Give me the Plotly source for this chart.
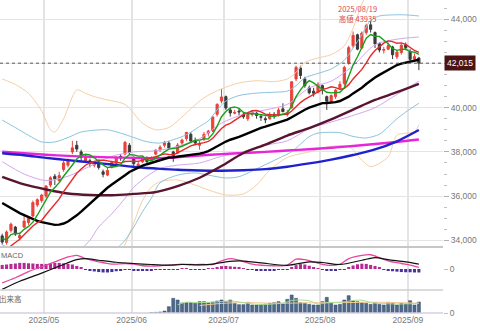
import plotly.graph_objects as go
from plotly.subplots import make_subplots

# ---------------- data ----------------
apr_days = [16, 17, 18, 21, 22, 23, 24, 25, 28, 30]
may_days = [1, 2, 7, 8, 9, 12, 13, 14, 15, 16, 19, 20, 21, 22, 23, 26, 27, 28, 29, 30]
jun_days = [2, 3, 4, 5, 6, 9, 10, 11, 12, 13, 16, 17, 18, 19, 20, 23, 24, 25, 26, 27, 30]
jul_days = [1, 2, 3, 4, 7, 8, 9, 10, 11, 14, 15, 16, 17, 18, 22, 23, 24, 25, 28, 29, 30, 31]
aug_days = [1, 4, 5, 6, 7, 8, 12, 13, 14, 15, 18, 19, 20, 21, 22, 25, 26, 27, 28, 29]
sep_days = [1, 2, 3]

opens = [34200, 33900, 34450, 34600, 34100, 34600, 34800, 35100, 35600, 35800,
         36000, 36500, 36900, 36700, 37200, 37400, 38000, 38300, 38000, 37600,
         37600, 37400, 37550, 37100, 36950, 37300, 37500, 37800, 37900, 38300,
         37700, 37350, 37550, 37700, 37600, 37900, 38100, 38300, 38400, 38000,
         37950, 38400, 38600, 38800, 38500, 38300, 38600, 38850, 38950, 39700,
         40300, 40500, 39900, 39750, 39850, 39700, 39500, 39700, 39750, 39600,
         39500, 39500, 39700, 39650, 39950, 39700, 40000, 41300, 41800, 41300,
         40900, 40750, 40700, 41000, 40500, 40300, 40500, 40900, 41100, 42000,
         42800, 43300, 42700, 43400, 43750, 43400, 42900, 42600, 42650, 42750,
         42300, 42500, 42850, 42550, 42200, 42250]
highs = [34300, 34450, 34800, 34650, 34350, 35200, 35100, 35800, 35900, 36100,
         36500, 36900, 37000, 37100, 37600, 37700, 38500, 38500, 38100, 37900,
         37700, 37600, 37650, 37200, 37300, 37600, 37800, 37900, 38500, 38400,
         37800, 37600, 37800, 37800, 37800, 38100, 38300, 38500, 38500, 38050,
         38400, 38600, 38900, 38900, 38650, 38500, 38900, 39000, 39600, 40200,
         40850, 40550, 40000, 39900, 39950, 39800, 39750, 39900, 39850, 39700,
         39600, 39800, 39800, 40000, 40200, 39900, 41200, 41900, 41900, 41400,
         41000, 40900, 41150, 41050, 40550, 40600, 40850, 41200, 41900, 42800,
         43450, 43350, 43450, 43800, 43935, 43450, 42950, 42750, 42950, 42800,
         42600, 42900, 42950, 42650, 42450, 42300]
lows = [33800, 33800, 34350, 34200, 33990, 34550, 34700, 35050, 35500, 35700,
        35900, 36400, 36500, 36650, 37100, 37300, 37900, 38000, 37600, 37500,
        37300, 37300, 37200, 36850, 36900, 37250, 37400, 37600, 37850, 37900,
        37300, 37300, 37500, 37500, 37550, 37850, 38000, 38200, 38150, 37550,
        37900, 38300, 38500, 38400, 38300, 38100, 38500, 38700, 38900, 39600,
        40200, 39900, 39600, 39700, 39650, 39500, 39400, 39600, 39500, 39400,
        39300, 39450, 39500, 39600, 39800, 39600, 39950, 41200, 41300, 40900,
        40600, 40500, 40650, 40600, 39900, 40250, 40400, 40800, 41000, 41950,
        42700, 42600, 42650, 43300, 43400, 42700, 42500, 42450, 42600, 42200,
        42200, 42400, 42600, 42100, 42100, 41700]
closes = [33920, 34377, 34730, 34280, 34220, 34868, 35039, 35705, 35839, 36045,
          36452, 36830, 36779, 36928, 37503, 37644, 38183, 38128, 37755, 37753,
          37498, 37529, 37299, 36985, 37160, 37531, 37724, 37722, 38432, 37965,
          37470, 37446, 37747, 37554, 37741, 38088, 38211, 38421, 38173, 37834,
          38311, 38536, 38885, 38488, 38403, 38354, 38790, 38942, 39584, 40150,
          40487, 39986, 39762, 39785, 39810, 39587, 39688, 39821, 39646, 39569,
          39459, 39678, 39663, 39901, 39819, 39774, 41171, 41826, 41456, 40998,
          40674, 40654, 41069, 40799, 40290, 40549, 40794, 41059, 41820, 42718,
          43274, 42649, 43378, 43714, 43546, 42888, 42610, 42633, 42807, 42394,
          42520, 42829, 42718, 42188, 42310, 42015]

ma5 = [34073, 34026, 34255, 34315, 34305, 34495, 34627, 34822, 35134, 35499,
       35816, 36174, 36389, 36607, 36898, 37137, 37407, 37677, 37843, 37893,
       37863, 37733, 37567, 37413, 37294, 37301, 37340, 37424, 37714, 37875,
       37863, 37807, 37812, 37636, 37592, 37715, 37868, 38003, 38127, 38145,
       38190, 38255, 38348, 38411, 38525, 38533, 38584, 38595, 38815, 39164,
       39591, 39830, 39994, 40034, 39966, 39786, 39726, 39738, 39710, 39662,
       39637, 39635, 39603, 39654, 39704, 39767, 40066, 40498, 40809, 41045,
       41225, 41122, 40970, 40839, 40697, 40672, 40700, 40698, 40902, 41388,
       41933, 42304, 42768, 43147, 43312, 43235, 43227, 43078, 42897, 42666,
       42593, 42637, 42654, 42530, 42513, 42412]
ma10 = [33470, 33600, 33750, 33900, 34050, 34250, 34450, 34650, 34800, 34902,
        35156, 35401, 35606, 35871, 36199, 36476, 36791, 37033, 37225, 37396,
        37500, 37570, 37622, 37628, 37593, 37582, 37536, 37496, 37563, 37585,
        37582, 37573, 37618, 37675, 37733, 37789, 37838, 37908, 37882, 37869,
        37953, 38062, 38175, 38269, 38335, 38362, 38420, 38472, 38613, 38844,
        39062, 39207, 39295, 39424, 39565, 39688, 39778, 39866, 39872, 39814,
        39711, 39681, 39671, 39682, 39683, 39702, 39850, 40051, 40232, 40375,
        40496, 40594, 40734, 40824, 40871, 40949, 40911, 40834, 40871, 41043,
        41303, 41502, 41733, 42025, 42350, 42584, 42766, 42923, 43022, 42989,
        42914, 42932, 42866, 42713, 42590, 42502]
ma25 = [35690, 35570, 35450, 35330, 35230, 35140, 35050, 34960, 34880, 34820,
        34770, 34730, 34700, 34710, 34760, 34850, 34980, 35130, 35300, 35480,
        35660, 35850, 36030, 36210, 36378, 36522, 36656, 36776, 36942, 37092,
        37196, 37292, 37374, 37442, 37510, 37576, 37631, 37697, 37746, 37760,
        37786, 37801, 37831, 37860, 37886, 37920, 37971, 38037, 38140, 38260,
        38378, 38469, 38550, 38605, 38678, 38763, 38853, 38936, 39019, 39092,
        39147, 39206, 39256, 39325, 39404, 39463, 39568, 39686, 39804, 39908,
        40001, 40076, 40161, 40209, 40215, 40217, 40250, 40302, 40383, 40499,
        40647, 40765, 40907, 41070, 41229, 41366, 41484, 41603, 41719, 41822,
        41932, 41998, 42034, 42063, 42115, 42169]

long_idx = [0, 5, 10, 15, 20, 25, 30, 35, 40, 45, 50, 55, 60, 65, 70, 75, 80, 85, 90, 95]
ma75 = [36870, 36530, 36300, 36120, 36050, 36040, 36100, 36180, 36450, 36830,
        37360, 37950, 38330, 38740, 39080, 39470, 39910, 40350, 40700, 41080]
ma200 = [37940, 37850, 37730, 37630, 37530, 37430, 37320, 37250, 37190, 37160,
         37150, 37170, 37220, 37330, 37480, 37650, 37860, 38110, 38480, 38990]
ma100 = [38010, 37940, 37870, 37820, 37780, 37750, 37730, 37715, 37760, 37840,
         37900, 37950, 38000, 38060, 38120, 38190, 38270, 38360, 38450, 38560]

up3_idx = [0, 3, 6, 9, 11, 12, 14, 17, 19, 21, 24, 28, 32, 35, 38, 40, 43, 46, 50,
           54, 58, 62, 65, 67, 69, 72, 75, 78, 80, 82, 84, 88, 92, 95]
up3 = [41300, 41050, 40650, 39850, 39000, 38900, 39500, 40800, 40650, 40500, 40350,
       40150, 39300, 39000, 39100, 39400, 39950, 40450, 40850, 41120, 41220, 41180,
       41300, 41600, 42050, 42250, 42400, 42800, 43600, 44700, 45400, 45800, 45600, 45300]
up2_idx = [0, 3, 6, 9, 12, 15, 18, 21, 24, 27, 30, 33, 36, 39, 42, 45, 47, 49, 51,
           54, 58, 62, 65, 67, 69, 72, 75, 78, 80, 82, 84, 86, 89, 92, 95]
up2 = [39440, 39100, 38750, 38450, 38450, 38650, 38900, 38980, 39000, 38850, 38650,
       38460, 38400, 38550, 38780, 39150, 39400, 39900, 40300, 40550, 40660, 40700,
       40750, 41000, 41350, 41550, 41750, 42150, 42700, 43300, 43950, 44150, 44200,
       44200, 44150]
up1_idx = [0, 5, 10, 15, 20, 25, 30, 35, 40, 45, 50, 55, 60, 65, 70, 75, 80, 85, 90, 95]
up1 = [37560, 37000, 36700, 36900, 37350, 37800, 38000, 38050, 38250, 38600,
       39300, 39700, 39900, 40150, 40900, 41200, 41900, 42850, 43100, 43200]
lo1_idx = [0, 5, 10, 15, 18, 20, 22, 25, 28, 30, 33, 36, 40, 45, 50, 55, 60, 65,
           70, 75, 80, 85, 90, 95]
lo1 = [33800, 33300, 32900, 33000, 33600, 34000, 34600, 35200, 35900, 36400, 36900,
       37250, 37400, 37500, 37800, 38000, 38300, 38500, 39050, 39350, 39650, 40000,
       40600, 41200]
lo2_idx = [22, 24, 26, 28, 30, 32, 34, 36, 40, 44, 47, 51, 54, 59, 63, 66, 70, 72,
           77, 80, 83, 86, 88, 90, 92, 95]
lo2 = [32500, 33200, 33600, 34000, 34600, 35300, 35900, 36600, 36950, 37050, 36950,
       36820, 36880, 37330, 37710, 38010, 38690, 38850, 38870, 38700, 38630, 38800,
       39130, 39500, 39800, 40200]
lo3_idx = [24, 26, 28, 30, 32, 34, 36, 40, 44, 47, 51, 55, 58, 61, 65, 70, 75, 79,
           82, 84, 88, 90, 94, 95]
lo3 = [32200, 32900, 33800, 34800, 35800, 36400, 36650, 36730, 36500, 36280, 36050,
       36100, 36500, 37180, 37750, 38000, 38250, 38250, 37630, 37330, 37780, 38750,
       38910, 39220]

macd_idx = [0, 3, 6, 9, 12, 15, 17, 19, 22, 25, 28, 30, 32, 35, 38, 41, 43, 46, 48,
            50, 52, 54, 57, 62, 65, 67, 69, 71, 74, 77, 79, 82, 84, 86, 88, 91, 93, 95]
macd = [-680, -430, -130, 110, 350, 590, 670, 510, 350, 240, 270, 240, 160, 140,
        190, 240, 220, 220, 220, 400, 510, 430, 240, 160, 190, 480, 460, 350, 190,
        240, 510, 670, 700, 560, 400, 270, 190, 80]
signal_idx = [0, 4, 9, 13, 17, 19, 22, 26, 30, 34, 38, 41, 45, 48, 51, 54, 59, 65,
              70, 73, 77, 82, 85, 88, 92, 95]
signal = [-1000, -600, -200, 140, 460, 510, 430, 330, 270, 220, 190, 220, 200, 240,
          350, 400, 300, 180, 350, 320, 220, 430, 560, 460, 350, 240]
hist = [200, 220, 250, 270, 300, 300, 280, 270, 250, 250, 250, 270, 300, 300, 280,
        250, 220, 150, 70,
        -20, -70, -120, -150, -170, -170, -150, -110, -70, -20, -40,
        -70, -80, -70, -60, -50, -40,
        -20, -15, -10, -15, -10, 10, 10, -10, -15, -15, -10, 15,
        40, 100, 140, 150, 130, 110, 80,
        40, -10, -30, -50, -60, -60, -60, -50, -40, -40,
        -20, 80, 190, 240, 220, 160, 90,
        30, -30, -60, -70, -60, -40, -10,
        80, 170, 230, 260, 250, 200, 150, 80,
        -20, -70, -110, -130, -150, -160, -160, -170, -170]

volume = [None] * 34 + [
    60, 80, 120, 240, 760, 1760, 1560, 1200, 1240, 1240, 1160, 1360, 1360, 1240,
    1320, 1440, 1560, 1360, 1560, 1160, 1000, 1000, 1280, 960, 960, 1040, 1080,
    1160, 1240, 1360, 1080, 1640, 2160, 1760, 1240, 1160, 1040, 960, 960, 1360,
    1880, 1240, 960, 1040, 1560, 2080, 1440, 1360, 1280, 1160, 1040, 1240, 1040,
    960, 1280, 1160, 960, 1160, 1080, 1480, 960, 1320]
vma_s_idx = [40, 42, 44, 46, 48, 50, 52, 54, 56, 58, 60, 62, 64, 66, 68, 70, 72, 74,
             76, 78, 80, 82, 84, 86, 88, 90, 92, 94, 95]
vma_s = [1000, 1300, 1250, 1260, 1300, 1380, 1440, 1320, 1160, 1040, 1010, 1100,
         1180, 1500, 1560, 1470, 1070, 1240, 1280, 1340, 1500, 1540, 1260, 1140,
         1110, 1080, 1090, 1130, 1200]
vma_l_idx = [45, 50, 55, 60, 65, 70, 75, 80, 85, 90, 95]
vma_l = [900, 1150, 1250, 1200, 1180, 1230, 1230, 1260, 1290, 1250, 1180]

last_price = 42015
high_note = ["2025/08/19", "高値 43935"]
high_idx = 81

# ---------------- build ----------------
months = [(4, apr_days), (5, may_days), (6, jun_days), (7, jul_days), (8, aug_days), (9, sep_days)]
dates = [(m, d) for m, days in months for d in days]
xi = list(range(len(dates)))
tickvals, ticktext = [], []
for i in range(1, len(dates)):
    if dates[i][0] != dates[i - 1][0]:
        tickvals.append(i - 0.5)
        ticktext.append(f"2025/{dates[i][0]:02d}")

fig = make_subplots(rows=3, cols=1, shared_xaxes=True, vertical_spacing=0)

def line(x, y, color, width, row=1, spline=False, dash=None):
    fig.add_trace(go.Scatter(x=x, y=y, mode="lines",
                             line=dict(color=color, width=width, dash=dash,
                                       shape="spline" if spline else "linear", smoothing=0.8),
                             hoverinfo="skip", showlegend=False), row=row, col=1)

# Bollinger style bands
orange = "#f6cfa6"
lblue = "#8cc3dc"
lpurple = "#d4a6f0"
line(up3_idx, up3, orange, 1, spline=True)
line(lo3_idx, lo3, orange, 1, spline=True)
line(up2_idx, up2, lblue, 1, spline=True)
line(lo2_idx, lo2, lblue, 1, spline=True)
line(up1_idx, up1, lpurple, 1, spline=True)
line(lo1_idx, lo1, lpurple, 1, spline=True)
# long moving averages
line(long_idx, ma100, "#e626d8", 2.4, spline=True)
line(long_idx, ma200, "#1f22cc", 2.4, spline=True)
line(long_idx, ma75, "#5a1430", 2.4, spline=True)
line(xi, ma25, "#000000", 2.4)

fig.add_trace(go.Candlestick(
    x=xi, open=opens, high=highs, low=lows, close=closes,
    increasing=dict(line=dict(color="#e8433b", width=1), fillcolor="#e8433b"),
    decreasing=dict(line=dict(color="#3b3b3b", width=1), fillcolor="#3b3b3b"),
    whiskerwidth=0, showlegend=False, hoverinfo="skip"), row=1, col=1)

line(xi, ma10, "#e5282a", 1.4)
line(xi, ma5, "#17a01a", 1.4)

# MACD panel
hist_colors = ["#b52a92" if v >= 0 else "#4a2f9e" for v in hist]
hist_plot = [v if abs(v) >= 15 else (15 if v >= 0 else -15) for v in hist]
fig.add_trace(go.Bar(x=xi, y=hist_plot, marker_color=hist_colors, marker_line_width=0,
                     hoverinfo="skip", showlegend=False), row=2, col=1)
line(macd_idx, macd, "#e8469e", 1.3, row=2, spline=True)
line(signal_idx, signal, "#111111", 1.2, row=2, spline=True)

# volume panel
fig.add_trace(go.Bar(x=xi, y=volume, marker_color="#4e6a8b",
                     marker_line=dict(color="#2f4767", width=0.5),
                     hoverinfo="skip", showlegend=False), row=3, col=1)
line(vma_l_idx, vma_l, "#f2c890", 1, row=3, spline=True)
line(vma_s_idx, vma_s, "#a6dc94", 1, row=3, spline=True)

# ---------------- layout ----------------
H = 313.0
fnt = "Liberation Sans, Arial, sans-serif"
grid = "#e4e4e4"
fig.update_layout(
    width=480, height=331, margin=dict(l=0, r=37, t=0, b=18),
    paper_bgcolor="white", plot_bgcolor="white",
    showlegend=False, hovermode=False, bargap=0.3,
    font=dict(family=fnt, size=8.5, color="#777"),
)
xcommon = dict(range=[-0.5, 100.5], tickvals=tickvals, ticktext=ticktext,
               showgrid=True, gridcolor=grid, gridwidth=1.5, zeroline=False,
               showline=False, rangeslider=dict(visible=False), ticks="")
fig.update_xaxes(**xcommon)
fig.update_xaxes(showticklabels=False, row=1, col=1)
fig.update_xaxes(showticklabels=False, row=2, col=1)
fig.update_xaxes(showticklabels=True, tickfont=dict(size=8.5, color="#777"), row=3, col=1)

y_lo = 40000 - (247 - 107.7) / 0.0221
y_hi = 40000 + 107.7 / 0.0221
price_ticks = list(range(34000, 44001, 2000))
# the 42,000 label sits under the last-price badge, so its text is left blank
price_text = ["" if abs(v - last_price) < 600 else f"{v:,}" for v in price_ticks]
fig.update_yaxes(domain=[(H - 247) / H, 1.0], range=[y_lo, y_hi], side="right",
                 tickvals=price_ticks, ticktext=price_text,
                 showgrid=True, gridcolor=grid, zeroline=False, ticks="outside",
                 ticklen=5, tickcolor="#b0b0b0", tickfont=dict(size=8.5, color="#777"),
                 minor=dict(dtick=500, ticklen=3, tickcolor="#c0c0c0", ticks="outside", showgrid=False),
                 row=1, col=1)
fig.update_yaxes(domain=[(H - 290) / H, (H - 248) / H], range=[-1030, 1030], side="right",
                 tickvals=[0], ticktext=["0"], showgrid=False, zeroline=False,
                 ticks="outside", ticklen=4, tickcolor="#c0c0c0",
                 tickfont=dict(size=8.5, color="#777"), row=2, col=1)
fig.update_yaxes(domain=[0, (H - 290) / H], range=[0, 2760], side="right",
                 tickvals=[0], ticktext=["0"], showgrid=False, zeroline=False,
                 ticks="outside", ticklen=4, tickcolor="#c0c0c0",
                 tickfont=dict(size=8.5, color="#777"), row=3, col=1)

shapes = [
    dict(type="line", xref="x", yref="y", x0=-0.5, x1=100.5, y0=last_price, y1=last_price,
         line=dict(color="#555", width=1, dash="dot")),
    dict(type="line", xref="paper", yref="paper", x0=0, x1=1, y0=(H - 247) / H, y1=(H - 247) / H,
         line=dict(color="#c6c6c6", width=2)),
    dict(type="line", xref="paper", yref="paper", x0=0, x1=1, y0=(H - 290) / H, y1=(H - 290) / H,
         line=dict(color="#cfcfcf", width=1.5)),
    dict(type="line", xref="paper", yref="paper", x0=0, x1=1, y0=0, y1=0,
         line=dict(color="#d6cfe6", width=1.5)),
]
fig.update_layout(shapes=shapes)

annotations = [
    dict(xref="paper", yref="y", x=1, xanchor="left", xshift=1, y=last_price,
         text=f"{last_price:,}", showarrow=False, bgcolor="#4a1414",
         font=dict(color="white", size=8.5, family=fnt), borderpad=2),
    dict(xref="x", yref="paper", x=high_idx, y=1, yanchor="top", yshift=-1,
         text="<br>".join(high_note), showarrow=False,
         font=dict(color="#e04848", size=7.5, family="Noto Sans CJK JP, " + fnt)),
    dict(xref="paper", yref="paper", x=0, xanchor="left", xshift=-1, y=(H - 255) / H,
         yanchor="middle", text="MACD", showarrow=False,
         font=dict(color="#666", size=7.5, family=fnt)),
    dict(xref="paper", yref="paper", x=0, xanchor="left", xshift=-3, y=(H - 298) / H,
         yanchor="middle", text="出来高", showarrow=False,
         font=dict(color="#666", size=7.5, family="Noto Sans CJK JP")),
]
fig.update_layout(annotations=annotations)

fig.write_html("out.html")
